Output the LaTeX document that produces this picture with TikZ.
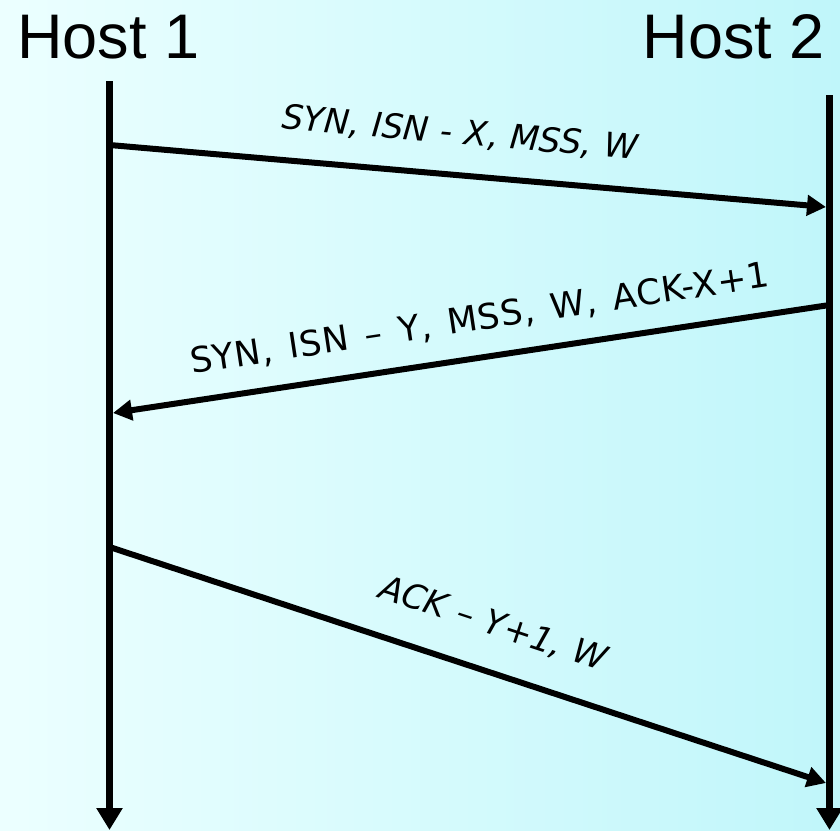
\documentclass[tikz,border=0pt]{standalone}
\usepackage{fontspec}
\setmainfont{Liberation Sans}
\newfontfamily\lblfont[WordSpace=1.1]{DejaVu Sans}
\newfontfamily\lblfontwide[WordSpace=1.4,LetterSpace=2]{DejaVu Sans}
\usetikzlibrary{arrows.meta}
\definecolor{bgleft}{RGB}{236,255,255}
\definecolor{bgright}{RGB}{192,246,250}
\tikzset{
  lifeline/.style={line width=7pt, -{Triangle[length=22pt,width=25pt]}},
  msg/.style={line width=6pt, -{Triangle[length=19pt,width=20pt]}},
  hostlabel/.style={inner sep=0pt, font=\fontsize{63}{72}\selectfont},
  msglabel/.style={inner sep=0pt, sloped, anchor=base, font=\lblfontwide\fontsize{35}{40}\selectfont},
  msglabelit/.style={inner sep=0pt, sloped, anchor=base, font=\lblfont\itshape\fontsize{34}{40}\selectfont}
}
\begin{document}
\begin{tikzpicture}[x=1pt,y=-1pt]
\useasboundingbox (0,0) rectangle (840,830);
\shade[left color=bgleft, right color=bgright] (0,0) rectangle (840,830);

\node[hostlabel, anchor=base west] (host1) at (17,58) {Host 1};
\node[hostlabel, anchor=base east] (host2) at (825,58) {Host 2};

\coordinate (h1top) at (109.5,81);
\coordinate (h1bot) at (109.5,830);
\coordinate (h2top) at (829.5,95);
\coordinate (h2bot) at (829.5,830);

\coordinate (m1s) at (109.5,145);
\coordinate (m1e) at (826,207);
\coordinate (m2s) at (829.5,305);
\coordinate (m2e) at (113,413);
\coordinate (m3s) at (109.5,547);
\coordinate (m3e) at (826,783);

\draw[lifeline] (h1top) -- (h1bot);
\draw[lifeline] (h2top) -- (h2bot);

\draw[msg] (m1s) -- node[msglabelit, pos=0.484, yshift=31pt] (l1) {SYN, ISN - X, MSS, W} (m1e);
\draw[msg] (m2s) -- node[msglabel, pos=0.48, yshift=27pt] (l2) {SYN, ISN – Y, MSS, W, ACK-X+1} (m2e);
\draw[msg] (m3s) -- node[msglabelit, pos=0.515, yshift=36pt] (l3) {ACK – Y+1, W} (m3e);
\end{tikzpicture}
\end{document}
